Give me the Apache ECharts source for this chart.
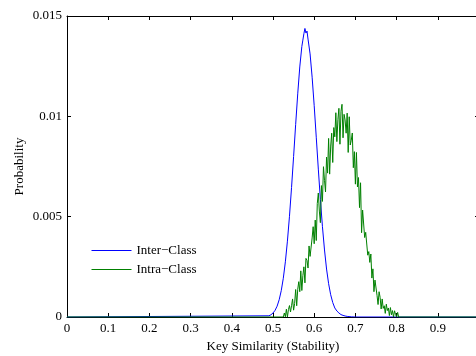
<!DOCTYPE html>
<html>
<head>
<meta charset="utf-8">
<script src="https://cdn.jsdelivr.net/npm/echarts@6.0.0/dist/echarts.min.js"></script>
<style>
  html, body { margin: 0; padding: 0; background: #fff; }
  #chart { width: 476px; height: 356px; }
</style>
</head>
<body>
<div id="chart"></div>
<script>
// Inter-Class (blue)
var interX = [0, 0.49, 0.495, 0.5, 0.505, 0.51, 0.515, 0.52, 0.525, 0.53, 0.535, 0.54, 0.545, 0.55, 0.555,
  0.56, 0.565, 0.57, 0.5725, 0.575, 0.5775, 0.58, 0.5825, 0.585, 0.59, 0.595, 0.6, 0.605, 0.61, 0.615,
  0.62, 0.625, 0.63, 0.635, 0.64, 0.645, 0.65, 0.655, 0.66, 0.665, 0.67, 0.675, 0.68, 0.69, 0.7, 1];
var interY = [0, 0.00006, 0.00011, 0.0002, 0.00033, 0.00054, 0.00086, 0.00131, 0.00193, 0.00275, 0.00378, 0.00502, 0.00645, 0.008, 0.0096,
  0.01112, 0.01246, 0.01348, 0.0138, 0.01412, 0.01438, 0.01415, 0.01425, 0.01385, 0.01311, 0.01195, 0.01053, 0.00896, 0.00737, 0.00586,
  0.0045, 0.00334, 0.00239, 0.00166, 0.00111, 0.00072, 0.00045, 0.0003, 0.0002, 0.00012, 0.00008, 0.00005, 0.00003, 0.00001, 0, 0];

// Intra-Class (green) - histogram bins every 0.0025 starting at 0.525
var intraStart = 0.525;
var intraStep = 0.0025;
var intraY = [
  0, 0.0002, 0.00001, 0.00039, 0, 0.00037, 0.00057, 0.00025, 0.00056, 0.0009,
  0.00034, 0.00068, 0.00137, 0.00056, 0.00138, 0.00176, 0.00126, 0.0023, 0.00132, 0.00206,
  0.0025, 0.0017, 0.00292, 0.00282, 0.00244, 0.00354, 0.00302, 0.00298, 0.00394, 0.0045,
  0.00365, 0.00483, 0.00381, 0.00566, 0.00618, 0.00528, 0.0047, 0.00655, 0.00576, 0.00749,
  0.00681, 0.00623, 0.00797, 0.00717, 0.0089, 0.00712, 0.00852, 0.00916, 0.0077, 0.00944,
  0.00898, 0.01018, 0.00874, 0.00983, 0.0104, 0.00861, 0.01025, 0.0106, 0.00893, 0.0101,
  0.00982, 0.00916, 0.01016, 0.0082, 0.00998, 0.00857, 0.00881, 0.00917, 0.00744, 0.00824,
  0.00662, 0.0082, 0.00648, 0.00695, 0.00545, 0.00669, 0.0042, 0.00533, 0.00536, 0.00396,
  0.00422, 0.00428, 0.00308, 0.00326, 0.00272, 0.00314, 0.00194, 0.0024, 0.00126, 0.00184,
  0.00182, 0.00108, 0.00062, 0.00126, 0.00098, 0.0004, 0.0009, 0.00043, 0.00056, 0.00018,
  0.00064, 0.00032, 0.00045, 0.00007, 0.00047, 0.00011, 0.00032, 0, 0.00031, 0.00013,
  0, 0.00023, 0
];

var names = ['Inter\u2212Class', 'Intra\u2212Class'];
var colors = ['#0000ff', '#008000'];

var interData = interX.map(function (x, i) { return [x, interY[i]]; });
var intraData = [[0, 0]];
intraY.forEach(function (v, i) { intraData.push([+(intraStart + i * intraStep).toFixed(4), v]); });
intraData.push([1, 0]);

var font = 'Liberation Serif';
var chart = echarts.init(document.getElementById('chart'), null, { renderer: 'canvas' });

var axisStyle = { color: '#000', width: 1 };
var labelStyle = { fontFamily: font, fontSize: 13, color: '#000' };

chart.setOption({
  animation: false,
  textStyle: { fontFamily: font, color: '#000' },
  grid: { left: 67, top: 16, width: 412, height: 301, containLabel: false, outerBoundsMode: 'none' },
  legend: {
    data: names,
    orient: 'vertical',
    left: 86,
    top: 239,
    itemWidth: 40,
    itemHeight: 14,
    itemGap: 6,
    itemStyle: { opacity: 0 },
    lineStyle: { width: 1 },
    textStyle: labelStyle
  },
  xAxis: [{
    type: 'value', min: 0, max: 1, interval: 0.1, position: 'bottom',
    name: 'Key Similarity (Stability)', nameLocation: 'middle', nameGap: 14,
    nameTextStyle: labelStyle,
    axisLine: { show: true, lineStyle: axisStyle },
    axisTick: { show: true, inside: true, length: 4, lineStyle: axisStyle },
    axisLabel: Object.assign({ margin: 5 }, labelStyle),
    splitLine: { show: false }
  }, {
    type: 'value', min: 0, max: 1, interval: 0.1, position: 'top',
    axisLine: { show: true, onZero: false, lineStyle: axisStyle },
    axisTick: { show: true, inside: true, length: 4, lineStyle: axisStyle },
    axisLabel: { show: false },
    splitLine: { show: false }
  }],
  yAxis: [{
    type: 'value', min: 0, max: 0.015, interval: 0.005, position: 'left',
    name: 'Probability', nameLocation: 'middle', nameGap: 41, nameRotate: 90,
    nameMoveOverlap: false,
    nameTextStyle: labelStyle,
    axisLine: { show: true, lineStyle: axisStyle },
    axisTick: { show: true, inside: true, length: 4, lineStyle: axisStyle },
    axisLabel: Object.assign({ margin: 5 }, labelStyle),
    splitLine: { show: false }
  }, {
    type: 'value', min: 0, max: 0.015, interval: 0.005, position: 'right',
    axisLine: { show: true, onZero: false, lineStyle: axisStyle },
    axisTick: { show: true, inside: true, length: 4, lineStyle: axisStyle },
    axisLabel: { show: false },
    splitLine: { show: false }
  }],
  series: [{
    name: names[0], type: 'line', data: interData, symbol: 'none', showSymbol: false,
    lineStyle: { color: colors[0], width: 1 }, itemStyle: { color: colors[0] }
  }, {
    name: names[1], type: 'line', data: intraData, symbol: 'none', showSymbol: false,
    lineStyle: { color: colors[1], width: 1 }, itemStyle: { color: colors[1] }
  }]
});
</script>
</body>
</html>
